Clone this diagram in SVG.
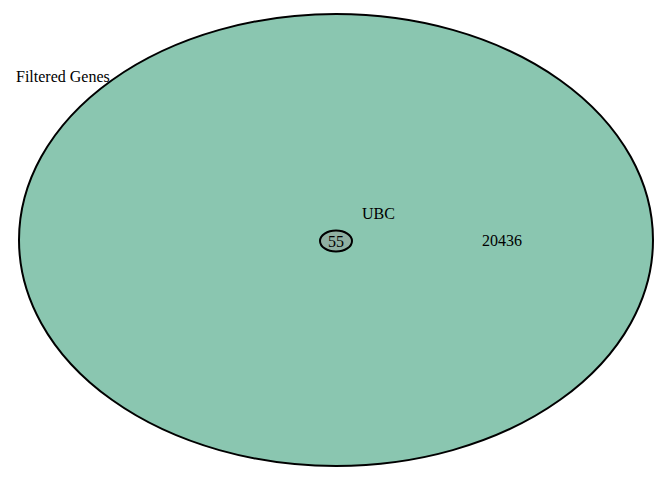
<svg xmlns="http://www.w3.org/2000/svg" width="672" height="480" viewBox="0 0 672 480">
<style>
.lbl{font-family:"Liberation Serif","Times New Roman",serif;font-size:16px;fill:#000}
.set{stroke:#000;stroke-width:2}
</style>
<rect width="672" height="480" fill="#fff"/>
<g id="filtered-genes">
<text class="lbl" x="16" y="82">Filtered Genes</text>
<ellipse class="set" cx="336" cy="240" rx="317" ry="226" fill="#8AC6B0"/>
<text class="lbl" x="482" y="246">20436</text>
</g>
<g id="ubc">
<ellipse class="set" cx="336" cy="241" rx="16" ry="10.5" fill="#8FB0A2"/>
<text class="lbl" x="362" y="219">UBC</text>
<text class="lbl" x="336" y="246.5" text-anchor="middle">55</text>
</g>
<g id="connectors"></g>
</svg>
